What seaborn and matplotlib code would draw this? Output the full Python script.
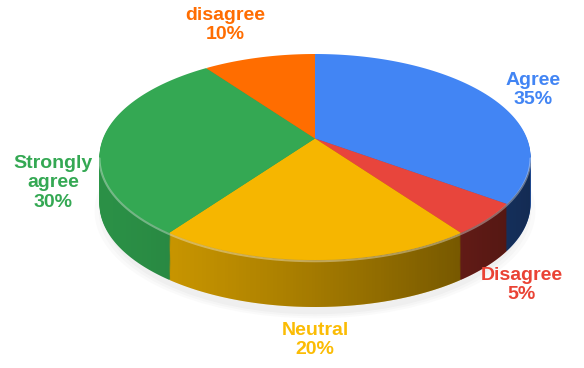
import numpy as np
import matplotlib
matplotlib.use("Agg")
import matplotlib.pyplot as plt
from matplotlib.path import Path
from matplotlib.patches import PathPatch, Ellipse
import matplotlib.transforms as mtransforms
import seaborn as sns

labels = ["Agree", "Disagree", "Neutral", "Strongly\nagree", "disagree"]
values = [35, 5, 20, 30, 10]
top_colors = ["#4285F4", "#E8453C", "#F6B600", "#34A853", "#FF6D00"]
side_colors = ["#2E66C4", "#B8332A", "#E0A700", "#2E9A4B", "#E06000"]
label_colors = ["#4285F4", "#EA4335", "#FBBC04", "#34A853", "#FF6D01"]
label_pos_px = [(533, 90), (522, 285), (315, 340), (53, 183), (225, 25)]

sns.set_style("white")
plt.rcParams['font.family'] = ['Liberation Sans', 'DejaVu Sans']

W, H = 584, 368
fig = plt.figure(figsize=(W / 100, H / 100), dpi=100)
ax = fig.add_axes([0, 0, 1, 1])

cx_px, cy_px, a_px, b_px = 315, 157, 212, 103
depth = 47 / b_px
S = 0.18  # perspective strength


class Persp(mtransforms.Transform):
    input_dims = output_dims = 2
    is_separable = False
    has_inverse = False

    def __init__(self, s):
        super().__init__()
        self.s = s

    def transform_non_affine(self, values):
        v = np.asarray(values, dtype=float)
        x, y = v[:, 0], v[:, 1]
        d = 1 + self.s * y
        return np.column_stack([x / d, (y + self.s) / d])

    def transform_path_non_affine(self, path):
        verts, codes = [], []
        t = np.linspace(0, 1, 40)[1:]
        for bez, code in path.iter_bezier():
            cp = bez.control_points
            if code == Path.MOVETO:
                verts.append(cp[:1])
                codes.append([Path.MOVETO])
            else:
                seg = bez(t)
                verts.append(seg)
                codes.append([Path.LINETO] * len(seg))
        if not verts:
            return path
        v = self.transform_non_affine(np.vstack(verts))
        return Path(v, np.concatenate(codes).astype(np.uint8))


persp = Persp(S)


def tr(off):
    return persp + mtransforms.Affine2D().translate(0, off) + ax.transData


# soft shadow
for s, al in [(1.04, 0.035), (1.02, 0.04), (1.0, 0.05)]:
    ax.add_patch(Ellipse((0.0, -depth - 0.07), 2 * s, 2 * s,
                         facecolor="#808080", alpha=al, lw=0, zorder=0))

# side walls: stacked pies
n = 45
for k in range(n, 0, -1):
    off = -depth * k / n
    ws, _ = ax.pie(values, colors=side_colors, startangle=90, counterclock=False,
                   radius=1, center=(0, 0), wedgeprops=dict(linewidth=0),
                   frame=False)
    for w in ws:
        w.set_transform(tr(off))
        w.set_zorder(1)

# outline of the visible side band (projected circle, lower arc)
th = np.linspace(-np.pi, np.pi, 2001)
circ = persp.transform_non_affine(np.column_stack([np.cos(th), np.sin(th)]))
i_l, i_r = np.argmin(circ[:, 0]), np.argmax(circ[:, 0])
lower = circ[i_l:i_r + 1]
verts = np.vstack([lower, lower[::-1] + [0, -depth], lower[:1]])
clip = PathPatch(Path(verts), transform=ax.transData, facecolor="none", lw=0)
ax.add_patch(clip)
grad = np.zeros((1, 256, 4))
xs = np.linspace(0, 1, 256)
grad[0, :, 3] = 0.06 + 0.52 * xs ** 1.3
im = ax.imshow(grad, extent=(-1.03, 1.03, -depth - 1.05, 0.05), aspect="auto",
               zorder=3, interpolation="bilinear")
im.set_clip_path(clip)

# top surface
wedges, _ = ax.pie(values, colors=top_colors, startangle=90, counterclock=False,
                   radius=1, center=(0, 0), wedgeprops=dict(linewidth=0),
                   frame=False)
for w in wedges:
    w.set_transform(tr(0))
    w.set_zorder(5)

# rim highlight
ax.plot(lower[:, 0], lower[:, 1] - 0.012, color="white", alpha=0.35, lw=1.5, zorder=6)

ax.set_aspect("auto")
ax.set_xlim(-cx_px / a_px, (W - cx_px) / a_px)
ax.set_ylim((cy_px - H) / b_px, cy_px / b_px)
ax.axis("off")

for lab, val, col, (px, py) in zip(labels, values, label_colors, label_pos_px):
    fig.text(px / W, 1 - py / H, f"{lab}\n{val}%", color=col, fontsize=14,
             fontweight="bold", ha="center", va="center", linespacing=1.2)

fig.savefig("out.png", dpi=100)
